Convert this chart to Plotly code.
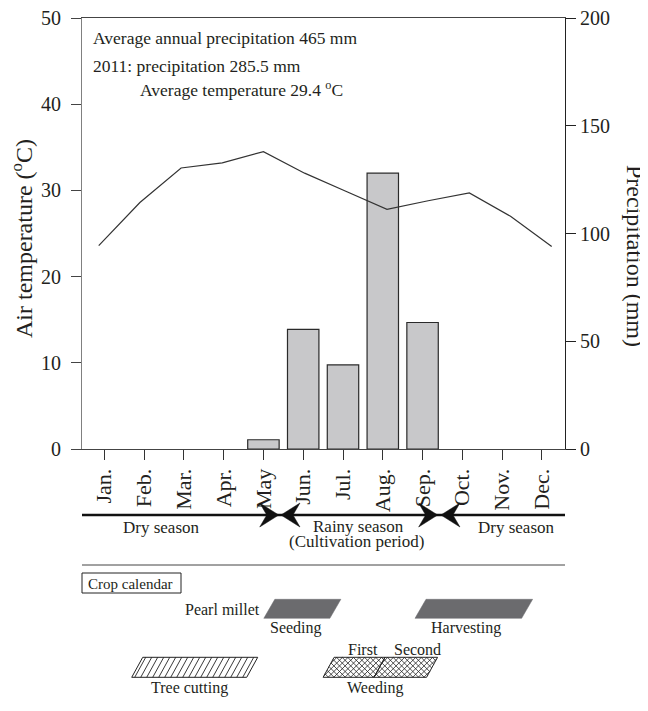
import plotly.graph_objects as go

# ---------------- data ----------------
months = ["Jan.", "Feb.", "Mar.", "Apr.", "May", "Jun.", "Jul.", "Aug.", "Sep.", "Oct.", "Nov.", "Dec."]
month_pos = list(range(1, 13))
temperature_c = [23.6, 28.6, 32.6, 33.2, 34.5, 32.0, 29.9, 27.8, 28.8, 29.7, 27.0, 23.5]
precip_mm = [0, 0, 0, 0, 4.3, 55.5, 39.0, 128.0, 58.7, 0, 0, 0]
temp_ticks = [0, 10, 20, 30, 40, 50]
precip_ticks = [0, 50, 100, 150, 200]

header_lines = ["Average annual precipitation 465 mm",
                "2011: precipitation 285.5 mm",
                "Average temperature 29.4 <sup>o</sup>C"]

# seasons: label and centre (in month units); arrow tips (month units, direction)
season_labels = ["Dry season", "Rainy season", "(Cultivation period)", "Dry season"]
season_label_x = [2.44, 7.38, 7.35, 11.36]
arrow_tips = [5.385, 5.441, 9.379, 9.462]
arrow_dirs = ["right", "left", "right", "left"]

# crop calendar activities (start/end of bottom edge, in month units)
solid_acts = ["Seeding", "Harvesting"]
solid_start = [5.01, 8.81]
solid_end = [6.67, 11.49]
solid_label_x = [5.81, 10.10]
tree_start, tree_end, tree_label_x = 1.69, 4.58, 3.15
weed_start, weed_mid, weed_end, weed_label_x = 6.50, 7.78, 9.10, 7.80
weed_parts = ["First", "Second"]
weed_part_x = [7.51, 8.86]
crop_name = "Pearl millet"
crop_name_x = 4.96

# ---------------- layout constants ----------------
PAGE_OFF = 8                      # default body margin of the html page
W, H = 648 - PAGE_OFF, 711 - PAGE_OFF
ML, MT = 82 - PAGE_OFF, 18 - PAGE_OFF
PLOT_W, PLOT_H = 483, 431
MR = W - ML - PLOT_W
MB = H - MT - PLOT_H
BOTTOM = 18 + PLOT_H              # screen row of the x axis
X_RANGE = [0.44, 12.58]
X2_RANGE = [0.594, 12.323]
PXM = PLOT_W / (X_RANGE[1] - X_RANGE[0])
FONT = "Liberation Serif, Times New Roman, serif"
INK = "#231f20"


def py(pix):
    """screen row -> paper y"""
    return (BOTTOM - pix) / PLOT_H


def pxp(pix):
    """screen column -> paper x"""
    return (pix - 82) / PLOT_W


fig = go.Figure()

bx = [m for m, p in zip(month_pos, precip_mm) if p > 0]
by = [p for p in precip_mm if p > 0]
fig.add_trace(go.Bar(x=bx, y=by, xaxis="x", yaxis="y", width=0.79,
                     marker=dict(color="#c8c8ca", line=dict(color="#2a2a2a", width=1.2)),
                     showlegend=False))
fig.add_trace(go.Scatter(x=month_pos, y=temperature_c, xaxis="x2", yaxis="y2", mode="lines",
                         line=dict(color="#333333", width=1.2), showlegend=False))

shapes = []
annotations = []

# ---- season line and arrows
ys = py(515)
shapes.append(dict(type="line", xref="paper", yref="paper", x0=0, x1=1, y0=ys, y1=ys,
                   line=dict(color="#111", width=2.6)))
for tip, d in zip(arrow_tips, arrow_dirs):
    s = -1 if d == "right" else 1
    path = f"M 0,0 L {s*19},12 L {s*12},0 L {s*19},-12 Z"
    shapes.append(dict(type="path", xref="x", yref="paper", xsizemode="pixel", ysizemode="pixel",
                       xanchor=tip, yanchor=ys, path=path, fillcolor="#111",
                       line=dict(color="#111", width=0.5)))
season_y = [py(527), py(526), py(541), py(527)]
for lab, x, y in zip(season_labels, season_label_x, season_y):
    annotations.append(dict(text=lab, x=x, y=y, xref="x", yref="paper", showarrow=False,
                            xanchor="center", yanchor="middle", font=dict(size=17)))

# ---- separator line
shapes.append(dict(type="line", xref="paper", yref="paper", x0=0, x1=1, y0=py(565), y1=py(565),
                   line=dict(color="#444", width=1)))

# ---- crop calendar box
shapes.append(dict(type="rect", xref="paper", yref="paper", x0=0, x1=pxp(181),
                   y0=py(593), y1=py(573), line=dict(color="#222", width=1)))
annotations.append(dict(text="Crop calendar", x=pxp(130), y=py(583.5), xref="paper", yref="paper",
                        showarrow=False, xanchor="center", yanchor="middle", font=dict(size=15)))

SLANT = 11.0


def para_points(a, b, yb, yt, slant=SLANT):
    w = (b - a) * PXM
    h = (yt - yb) * PLOT_H
    pts = [(0, 0), (w, 0), (w + slant, h), (slant, h)]
    return [(a + X / PXM, yb + Y / PLOT_H) for X, Y in pts]


def para_path(a, b, yb, yt, slant=SLANT):
    pts = para_points(a, b, yb, yt, slant)
    return "M " + " L ".join(f"{x:.5f},{y:.5f}" for x, y in pts) + " Z"


def hatch_path(a, b, yb, yt, dx, spacing, slant=SLANT):
    w = (b - a) * PXM
    h = (yt - yb) * PLOT_H
    m = dx - slant / h
    segs = []
    cmin = -abs(m) * h - spacing
    cmax = w + abs(m) * h + spacing
    c = cmin + spacing / 2
    while c < cmax:
        if abs(m) < 1e-9:
            lo, hi = (0, h) if 0 <= c <= w else (1, 0)
        else:
            y1, y2 = (0 - c) / m, (w - c) / m
            lo, hi = max(0, min(y1, y2)), min(h, max(y1, y2))
        if hi > lo + 0.3:
            xa, xb = c + dx * lo, c + dx * hi
            segs.append(f"M {a + xa / PXM:.5f},{yb + lo / PLOT_H:.5f} L {a + xb / PXM:.5f},{yb + hi / PLOT_H:.5f}")
        c += spacing
    return " ".join(segs)


# row 1: pearl millet seeding & harvest
r1b, r1t = py(618.3), py(599.3)
for a, b in zip(solid_start, solid_end):
    shapes.append(dict(type="path", xref="x", yref="paper", path=para_path(a, b, r1b, r1t),
                       fillcolor="#6b6b6e", line=dict(color="#6b6b6e", width=0.5)))
annotations.append(dict(text=crop_name, x=crop_name_x, y=py(609), xref="x", yref="paper",
                        showarrow=False, xanchor="right", yanchor="middle", font=dict(size=16)))
for lab, x in zip(solid_acts, solid_label_x):
    annotations.append(dict(text=lab, x=x, y=py(627.5), xref="x", yref="paper", showarrow=False,
                            xanchor="center", yanchor="middle", font=dict(size=16)))

# row 2: tree cutting (single hatch) & weeding (cross hatch)
r2b, r2t = py(677.3), py(657.3)
h2 = (r2t - r2b) * PLOT_H
shapes.append(dict(type="path", xref="x", yref="paper",
                   path=hatch_path(tree_start, tree_end, r2b, r2t, SLANT / h2, 6.0),
                   line=dict(color="#222", width=0.9)))
shapes.append(dict(type="path", xref="x", yref="paper", path=para_path(tree_start, tree_end, r2b, r2t),
                   line=dict(color="#222", width=1)))
for a, b in [(weed_start, weed_mid), (weed_mid, weed_end)]:
    shapes.append(dict(type="path", xref="x", yref="paper",
                       path=hatch_path(a, b, r2b, r2t, 1.0, 5.6) + " " + hatch_path(a, b, r2b, r2t, -1.0, 5.6),
                       line=dict(color="#222", width=0.8)))
    shapes.append(dict(type="path", xref="x", yref="paper", path=para_path(a, b, r2b, r2t),
                       line=dict(color="#222", width=1)))
annotations.append(dict(text="Tree cutting", x=tree_label_x, y=py(687.5), xref="x", yref="paper",
                        showarrow=False, xanchor="center", yanchor="middle", font=dict(size=16)))
annotations.append(dict(text="Weeding", x=weed_label_x, y=py(687.5), xref="x", yref="paper",
                        showarrow=False, xanchor="center", yanchor="middle", font=dict(size=16)))
for lab, x in zip(weed_parts, weed_part_x):
    annotations.append(dict(text=lab, x=x, y=py(649.5), xref="x", yref="paper", showarrow=False,
                            xanchor="center", yanchor="middle", font=dict(size=16)))

# ---- header text
hx = [pxp(90.7), pxp(90.7), pxp(138.3)]
hy = [py(38), py(66), py(89)]
for t, x, y in zip(header_lines, hx, hy):
    annotations.append(dict(text=t, x=x, y=y, xref="paper", yref="paper", showarrow=False,
                            xanchor="left", yanchor="middle", font=dict(size=17.5)))

# ---- axis titles
annotations.append(dict(text="Air temperature (<sup>o</sup>C)", x=pxp(22), y=py(239),
                        xref="paper", yref="paper", showarrow=False, textangle=-90,
                        xanchor="center", yanchor="middle", font=dict(size=24)))
annotations.append(dict(text="Precipitation (mm)", x=pxp(635), y=py(256),
                        xref="paper", yref="paper", showarrow=False, textangle=90,
                        xanchor="center", yanchor="middle", font=dict(size=24)))

tickfont = dict(family=FONT, size=20, color=INK)
fig.update_layout(
    width=W, height=H,
    margin=dict(l=ML, r=MR, t=MT, b=MB, pad=0),
    paper_bgcolor="white", plot_bgcolor="white",
    font=dict(family=FONT, color=INK, size=16),
    showlegend=False,
    xaxis=dict(range=X_RANGE, tickvals=month_pos, ticktext=months, tickangle=-90,
               ticks="outside", ticklen=10, tickwidth=1, tickcolor="#333",
               showline=True, linecolor="#444", linewidth=1, mirror=True,
               showgrid=False, zeroline=False, tickfont=dict(family=FONT, size=22, color=INK),
               automargin=False),
    xaxis2=dict(range=X2_RANGE, overlaying="x", anchor="y2", showticklabels=False, ticks="",
                showline=False, showgrid=False, zeroline=False),
    yaxis=dict(range=[0, 200], tickvals=precip_ticks, side="right", anchor="x",
               ticks="outside", ticklen=10, tickwidth=1, tickcolor="#222",
               showline=True, linecolor="#222", linewidth=1, showgrid=False, zeroline=False,
               tickfont=tickfont, automargin=False, ticklabeloverflow="allow"),
    yaxis2=dict(range=[0, 50], tickvals=temp_ticks, overlaying="y", side="left", anchor="x",
                ticks="outside", ticklen=10, tickwidth=1,
                tickcolor="#444", showline=True, linecolor="#808080", linewidth=1,
                showgrid=False, zeroline=False, tickfont=tickfont, automargin=False,
                ticklabelstandoff=6, ticklabeloverflow="allow"),
    shapes=shapes,
    annotations=annotations,
)

fig.write_html("out.html")
